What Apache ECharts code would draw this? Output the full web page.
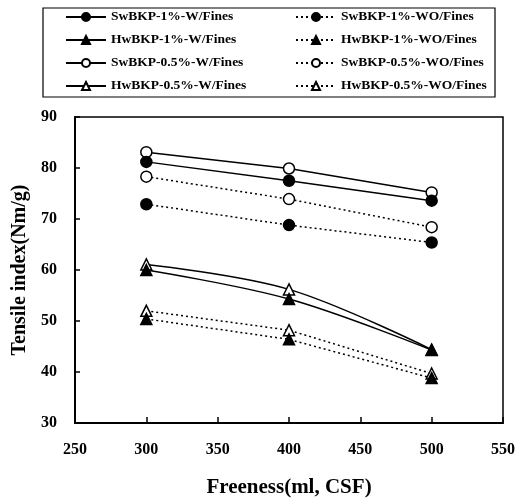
<!DOCTYPE html>
<html>
<head>
<meta charset="utf-8">
<script src="https://cdn.jsdelivr.net/npm/echarts@6/dist/echarts.min.js"></script>
<style>
html,body{margin:0;padding:0;background:#fff;}
#main{width:517px;height:502px;}
</style>
</head>
<body>
<div id="main"></div>
<script>
// freeness (ml, CSF)
var freeness = [300, 400, 500];
// tensile index (Nm/g)
var sw1W = [81.2, 77.5, 73.6];
var hw1W = [60.0, 54.3, 44.3];
var sw05W = [83.1, 79.9, 75.2];
var hw05W = [61.1, 56.2, 44.4];
var sw1WO = [72.9, 68.8, 65.4];
var hw1WO = [50.4, 46.4, 38.8];
var sw05WO = [78.3, 73.9, 68.4];
var hw05WO = [52.0, 48.2, 39.7];

var xTicks = [250, 300, 350, 400, 450, 500, 550];
var yTicks = [30, 40, 50, 60, 70, 80, 90];

var namesW = ['SwBKP-1%-W/Fines', 'HwBKP-1%-W/Fines', 'SwBKP-0.5%-W/Fines', 'HwBKP-0.5%-W/Fines'];
var namesWO = ['SwBKP-1%-WO/Fines', 'HwBKP-1%-WO/Fines', 'SwBKP-0.5%-WO/Fines', 'HwBKP-0.5%-WO/Fines'];

function pairs(vals) {
    var out = [];
    for (var i = 0; i < freeness.length; i++) {
        out.push([freeness[i], vals[i]]);
    }
    return out;
}

var serif = '"Liberation Serif", "DejaVu Serif", serif';

function mkSeries(name, vals, symbol, filled, dotted, smooth) {
    return {
        name: name,
        type: 'line',
        data: pairs(vals),
        symbol: symbol,
        symbolSize: 11,
        smooth: smooth ? 0.35 : false,
        lineStyle: {color: '#000', width: 1.5, type: dotted ? [2, 3] : 'solid'},
        itemStyle: {color: filled ? '#000' : '#fff', borderColor: '#000', borderWidth: 1.5},
        emphasis: {disabled: true},
        z: filled ? 3 : 2
    };
}

var legendText = {fontFamily: serif, fontWeight: 'bold', fontSize: 13.5, color: '#000'};

var myChart = echarts.init(document.getElementById('main'));
var option = {
    animation: false,
    backgroundColor: '#fff',
    graphic: [{
        type: 'rect',
        shape: {x: 43, y: 8, width: 452, height: 89},
        style: {fill: 'none', stroke: '#000', lineWidth: 1.2}
    }],
    legend: [{
        data: namesW,
        orient: 'vertical',
        left: 60,
        top: 5,
        itemWidth: 40,
        itemHeight: 10,
        itemGap: 9,
        textStyle: legendText
    }, {
        data: namesWO,
        orient: 'vertical',
        left: 290,
        top: 5,
        itemWidth: 40,
        itemHeight: 10,
        itemGap: 9,
        textStyle: legendText
    }],
    grid: {
        left: 75, right: 14, top: 117, bottom: 79,
        show: true, borderColor: '#000', borderWidth: 1.5,
        containLabel: false,
        outerBoundsMode: 'none'
    },
    xAxis: {
        type: 'value',
        min: xTicks[0],
        max: xTicks[xTicks.length - 1],
        interval: 50,
        name: 'Freeness(ml, CSF)',
        nameLocation: 'middle',
        nameGap: 54,
        nameTextStyle: {fontFamily: serif, fontWeight: 'bold', fontSize: 21, color: '#000'},
        axisLine: {lineStyle: {color: '#000', width: 2}},
        axisTick: {inside: true, length: 6, lineStyle: {color: '#000', width: 1.5}},
        axisLabel: {fontFamily: serif, fontWeight: 'bold', fontSize: 16, color: '#000', margin: 19},
        splitLine: {show: false}
    },
    yAxis: {
        type: 'value',
        min: yTicks[0],
        max: yTicks[yTicks.length - 1],
        interval: 10,
        name: 'Tensile index(Nm/g)',
        nameLocation: 'middle',
        nameGap: 45,
        nameTextStyle: {fontFamily: serif, fontWeight: 'bold', fontSize: 20, color: '#000'},
        axisLine: {show: true, lineStyle: {color: '#000', width: 2}},
        axisTick: {show: true, inside: true, length: 5, lineStyle: {color: '#000', width: 1.5}},
        axisLabel: {fontFamily: serif, fontWeight: 'bold', fontSize: 16, color: '#000', margin: 18},
        splitLine: {show: false}
    },
    series: [
        mkSeries(namesW[0], sw1W, 'circle', true, false, false),
        mkSeries(namesW[1], hw1W, 'triangle', true, false, true),
        mkSeries(namesW[2], sw05W, 'circle', false, false, false),
        mkSeries(namesW[3], hw05W, 'triangle', false, false, true),
        mkSeries(namesWO[0], sw1WO, 'circle', true, true, false),
        mkSeries(namesWO[1], hw1WO, 'triangle', true, true, false),
        mkSeries(namesWO[2], sw05WO, 'circle', false, true, false),
        mkSeries(namesWO[3], hw05WO, 'triangle', false, true, false)
    ]
};
myChart.setOption(option);
</script>
</body>
</html>
